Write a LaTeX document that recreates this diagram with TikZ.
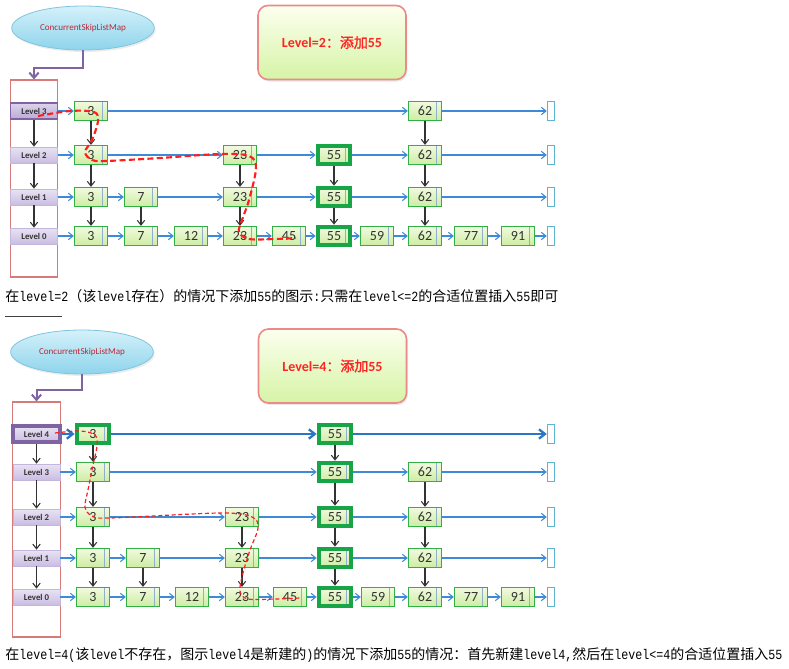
\documentclass[tikz,border=0pt]{standalone}
\usepackage{fontspec}
\setmainfont{Carlito}
\newfontfamily\cjk{Noto Sans CJK SC}
\newfontfamily\cjkb[FakeBold=1.5]{Noto Sans CJK SC}
\newfontfamily\hm[FakeStretch=0.8333]{Liberation Mono}
\usetikzlibrary{arrows.meta,shadows,shapes.geometric}

\definecolor{nodegreen}{HTML}{33B045}
\definecolor{newgreen}{HTML}{17A548}
\definecolor{nodetop}{HTML}{F1FADF}
\definecolor{nodebot}{HTML}{CDEDA2}
\definecolor{divline}{HTML}{8FB0CC}
\definecolor{linkblue}{HTML}{3C8AD8}
\definecolor{boldblue}{HTML}{2A76C6}
\definecolor{endblue}{HTML}{5DB4D0}
\definecolor{lvtop}{HTML}{E9E3F3}
\definecolor{lvbot}{HTML}{CABDE2}
\definecolor{lvedge}{HTML}{C3B6DC}
\definecolor{lvdark}{HTML}{8064A2}
\definecolor{colred}{HTML}{D77A7A}
\definecolor{elltop}{HTML}{D4F1FA}
\definecolor{ellbot}{HTML}{8ED4EC}
\definecolor{elledge}{HTML}{7FC4DE}
\definecolor{mapred}{HTML}{B8283A}
\definecolor{pathred}{HTML}{FF1E1E}
\definecolor{notetop}{HTML}{FCFFEE}
\definecolor{notebot}{HTML}{D6F4A6}
\definecolor{noteedge}{HTML}{EC8A8A}
\definecolor{notered}{HTML}{FF2424}
\definecolor{numgray}{HTML}{333333}

\begin{document}
\begin{tikzpicture}[x=0.75pt,y=-0.75pt,
  skip/.style={draw=nodegreen,line width=1.2pt,top color=nodetop,bottom color=nodebot,
    minimum width=24.5pt,minimum height=14pt,inner sep=0pt,
    font=\fontsize{10.5pt}{11pt}\selectfont,text=numgray,
    path picture={\draw[divline,line width=0.6pt]
      ([xshift=-4pt]path picture bounding box.north east) --
      ([xshift=-4pt]path picture bounding box.south east);}},
  newskip/.style={skip,draw=newgreen,line width=3pt},
  endbox/.style={draw=endblue,line width=0.8pt,fill=white,minimum width=5.5pt,
    minimum height=14pt,inner sep=0pt},
  lvbox/.style={draw=lvedge,line width=0.5pt,top color=lvtop,bottom color=lvbot,
    minimum width=35pt,minimum height=12pt,inner sep=0pt,text=numgray,
    font=\fontsize{6.6pt}{7pt}\selectfont\bfseries},
  lvsel/.style={lvbox,draw=lvdark,line width=1.2pt,top color=lvtop!60!lvbot,bottom color=lvbot!80!lvdark},
  lvnew/.style={lvbox,draw=lvdark,line width=3pt},
  column/.style={draw=colred,line width=0.9pt,minimum width=35.5pt,inner sep=0pt},
  ell/.style={ellipse,draw=elledge,line width=0.6pt,top color=elltop,bottom color=ellbot,
    minimum width=107pt,minimum height=33pt,inner sep=0pt,text=mapred,
    font=\fontsize{6.8pt}{7pt}\selectfont,
    drop shadow={opacity=0.15,shadow xshift=1pt,shadow yshift=-1.5pt}},
  note/.style={draw=noteedge,line width=1.2pt,rounded corners=7.5pt,top color=notetop,
    bottom color=notebot,minimum width=111pt,minimum height=55.5pt,inner sep=0pt,
    text=notered,font=\fontsize{10.5pt}{12pt}\selectfont,
    drop shadow={opacity=0.18,shadow xshift=1pt,shadow yshift=-1.5pt}},
  harrow/.style={draw=linkblue,line width=0.8pt,-{Straight Barb[length=3.5pt,width=5.5pt]}},
  hbold/.style={draw=boldblue,line width=1.7pt,-{Straight Barb[length=4.5pt,width=7pt]}},
  varrow/.style={draw=numgray,line width=0.8pt,-{Straight Barb[length=3.5pt,width=5.5pt]}},
  parrow/.style={draw=lvdark,line width=1.5pt,-{Straight Barb[length=4pt,width=7pt]}},
  route/.style={draw=pathred,line width=1.6pt,dash pattern=on 4.5pt off 2.5pt},
  routethin/.style={draw=pathred,line width=0.9pt,dash pattern=on 3pt off 2pt},
  caption/.style={anchor=west,inner sep=0pt,text=black,font=\fontsize{10.5pt}{12pt}\selectfont},
]
\useasboundingbox (0,0) rectangle (789,668);

% ===================== first list: insert 55 up to level 2 =====================
\node[ell] (ea) at (83,28) {ConcurrentSkipListMap};
\node[note] (na) at (332,42.5) {{\bfseries Level=2}{\cjkb ：添加}{\bfseries 55}};
\node[column,minimum height=147.75pt] (acol) at (34,178.5) {};
\coordinate (abend) at (83,68);
\draw[parrow] (ea.south) -- (abend) -| (acol.north);

\node[lvsel] (a3-lv) at (34,111) {Level 3};
\node[lvbox] (a2-lv) at (34,155) {Level 2};
\node[lvbox] (a1-lv) at (34,197) {Level 1};
\node[lvbox] (a0-lv) at (34,236) {Level 0};
\foreach \p/\q in {3/2,2/1,1/0} \draw[varrow] (a\p-lv) -- (a\q-lv);

% level 3
\foreach \v/\x in {3/91,62/425} \node[skip] (a3-\v) at (\x,111) {\v};
\node[endbox] (a3-end) at (551,111) {};
% level 2
\foreach \v/\x in {3/91,23/240,62/425} \node[skip] (a2-\v) at (\x,155) {\v};
\node[newskip] (a2-55) at (334,155) {55};
\node[endbox] (a2-end) at (551,155) {};
% level 1
\foreach \v/\x in {3/91,7/141,23/240,62/425} \node[skip] (a1-\v) at (\x,197) {\v};
\node[newskip] (a1-55) at (334,197) {55};
\node[endbox] (a1-end) at (551,197) {};
% level 0
\foreach \v/\x in {3/91,7/141,12/191,23/240,45/289,59/377,62/425,77/471,91/518}
  \node[skip] (a0-\v) at (\x,236) {\v};
\node[newskip] (a0-55) at (334,236) {55};
\node[endbox] (a0-end) at (551,236) {};

\foreach \p/\q in {lv/3,3/62,62/end} \draw[harrow] (a3-\p) -- (a3-\q);
\foreach \p/\q in {lv/3,3/23,23/55,55/62,62/end} \draw[harrow] (a2-\p) -- (a2-\q);
\foreach \p/\q in {lv/3,3/7,7/23,23/55,55/62,62/end} \draw[harrow] (a1-\p) -- (a1-\q);
\foreach \p/\q in {lv/3,3/7,7/12,12/23,23/45,45/55,55/59,59/62,62/77,77/91,91/end}
  \draw[harrow] (a0-\p) -- (a0-\q);

\foreach \v in {3,62} \draw[varrow] (a3-\v) -- (a2-\v);
\foreach \v in {3,23,55,62} \draw[varrow] (a2-\v) -- (a1-\v);
\foreach \v in {3,7,23,55,62} \draw[varrow] (a1-\v) -- (a0-\v);

% search path
\draw[route] plot[smooth,tension=0.55] coordinates {
  (38,116) (70,111) (94,112) (98,121) (92,140) (85,152) (92,160) (106,161)
  (160,158) (220,154) (249,156) (256,168) (249,200) (242,220) (239,232)
  (249,239) (275,239) (296,238)};

\node[caption] (cap1) at (5,296) {{\cjk 在}{\hm level=2}{\cjk （该}{\hm level}{\cjk 存在）的情况下添加}{\hm 55}{\cjk 的图示}{\hm :}{\cjk 只需在}{\hm level<=2}{\cjk 的合适位置插入}{\hm 55}{\cjk 即可}};
\draw[black!75,line width=0.75pt] (5,316) -- (62,316);

% ===================== second list: insert 55 with a new level 4 =====================
\node[ell] (eb) at (82,352) {ConcurrentSkipListMap};
\node[note] (nb) at (332.5,366) {{\bfseries Level=4}{\cjkb ：添加}{\bfseries 55}};
\node[column,minimum height=176.25pt] (bcol) at (36.5,519.5) {};
\coordinate (bbend) at (82,390);
\draw[parrow] (eb.south) -- (bbend) -| (bcol.north);

\node[lvnew] (b4-lv) at (36.5,434) {Level 4};
\node[lvbox] (b3-lv) at (36.5,472) {Level 3};
\node[lvbox] (b2-lv) at (36.5,517) {Level 2};
\node[lvbox] (b1-lv) at (36.5,558) {Level 1};
\node[lvbox] (b0-lv) at (36.5,597) {Level 0};
\foreach \p/\q in {4/3,3/2,2/1,1/0} \draw[varrow] (b\p-lv) -- (b\q-lv);

% level 4
\node[newskip] (b4-3) at (93,434) {3};
\node[newskip] (b4-55) at (335,434) {55};
\node[endbox] (b4-end) at (551,434) {};
% level 3
\foreach \v/\x in {3/93,62/425} \node[skip] (b3-\v) at (\x,472) {\v};
\node[newskip] (b3-55) at (335,472) {55};
\node[endbox] (b3-end) at (551,472) {};
% level 2
\foreach \v/\x in {3/93,23/242,62/425} \node[skip] (b2-\v) at (\x,517) {\v};
\node[newskip] (b2-55) at (335,517) {55};
\node[endbox] (b2-end) at (551,517) {};
% level 1
\foreach \v/\x in {3/93,7/143,23/242,62/425} \node[skip] (b1-\v) at (\x,558) {\v};
\node[newskip] (b1-55) at (335,558) {55};
\node[endbox] (b1-end) at (551,558) {};
% level 0
\foreach \v/\x in {3/93,7/143,12/192,23/242,45/290,59/378,62/425,77/471,91/518}
  \node[skip] (b0-\v) at (\x,597) {\v};
\node[newskip] (b0-55) at (335,597) {55};
\node[endbox] (b0-end) at (551,597) {};

\foreach \p/\q in {lv/3,3/55,55/end} \draw[hbold] (b4-\p) -- (b4-\q);
\foreach \p/\q in {lv/3,3/55,55/62,62/end} \draw[harrow] (b3-\p) -- (b3-\q);
\foreach \p/\q in {lv/3,3/23,23/55,55/62,62/end} \draw[harrow] (b2-\p) -- (b2-\q);
\foreach \p/\q in {lv/3,3/7,7/23,23/55,55/62,62/end} \draw[harrow] (b1-\p) -- (b1-\q);
\foreach \p/\q in {lv/3,3/7,7/12,12/23,23/45,45/55,55/59,59/62,62/77,77/91,91/end}
  \draw[harrow] (b0-\p) -- (b0-\q);

\foreach \v in {3,55} \draw[varrow] (b4-\v) -- (b3-\v);
\foreach \v in {3,55,62} \draw[varrow] (b3-\v) -- (b2-\v);
\foreach \v in {3,23,55,62} \draw[varrow] (b2-\v) -- (b1-\v);
\foreach \v in {3,7,23,55,62} \draw[varrow] (b1-\v) -- (b0-\v);

% search path
\draw[routethin] plot[smooth,tension=0.55] coordinates {
  (55,433) (80,431) (95,435) (97,446) (93,465) (88,490) (85,507) (92,516) (110,518)
  (220,513) (252,517) (258,528) (250,550) (243,573) (240,591) (248,599)
  (275,599) (300,598)};

\node[caption] (cap2) at (5,655) {{\cjk 在}{\hm level=4(}{\cjk 该}{\hm level}{\cjk 不存在，图示}{\hm level4}{\cjk 是新建的}{\hm )}{\cjk 的情况下添加}{\hm 55}{\cjk 的情况：首先新建}{\hm level4,}{\cjk 然后在}{\hm level<=4}{\cjk 的合适位置插入}{\hm 55}};
\end{tikzpicture}
\end{document}
